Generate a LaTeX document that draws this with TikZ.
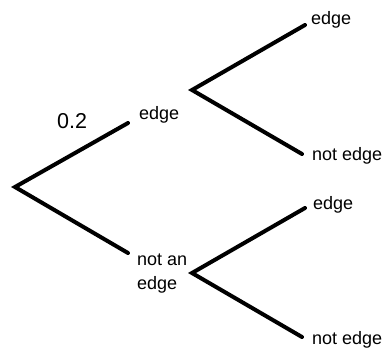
\documentclass[tikz,border=0pt]{standalone}
\usepackage{fontspec}
\setmainfont{Liberation Sans}
\begin{document}
\begin{tikzpicture}[x=1pt,y=-1pt,
  branch/.style={line width=4pt,line cap=round,line join=miter},
  lbl/.style={inner sep=0pt,anchor=base west,font=\fontsize{18}{24}\selectfont},
  prob/.style={inner sep=0pt,anchor=base west,font=\fontsize{21.5}{24}\selectfont}]
\useasboundingbox (0,0) rectangle (387,353);
% fork points and branch ends
\coordinate (r0) at (15,187);
\coordinate (u0) at (128,123);
\coordinate (d0) at (128,253);
\coordinate (r1) at (192,90);
\coordinate (u1) at (305,25);
\coordinate (d1) at (302,154);
\coordinate (r2) at (192,273);
\coordinate (u2) at (305,208);
\coordinate (d2) at (302,337);
% labels
\node[prob] (p) at (57,128) {0.2};
\node[lbl] (e0) at (139,119) {edge};
\node[lbl,align=left] (n0) at (137,289) {not an\\edge};
\node[lbl] (e1) at (311,25) {edge};
\node[lbl] (n1) at (312,160) {not edge};
\node[lbl] (e2) at (313,209) {edge};
\node[lbl] (n2) at (312,344) {not edge};
% branches
\draw[branch] (u0) -- (r0) -- (d0);
\draw[branch] (u1) -- (r1) -- (d1);
\draw[branch] (u2) -- (r2) -- (d2);
\end{tikzpicture}
\end{document}
